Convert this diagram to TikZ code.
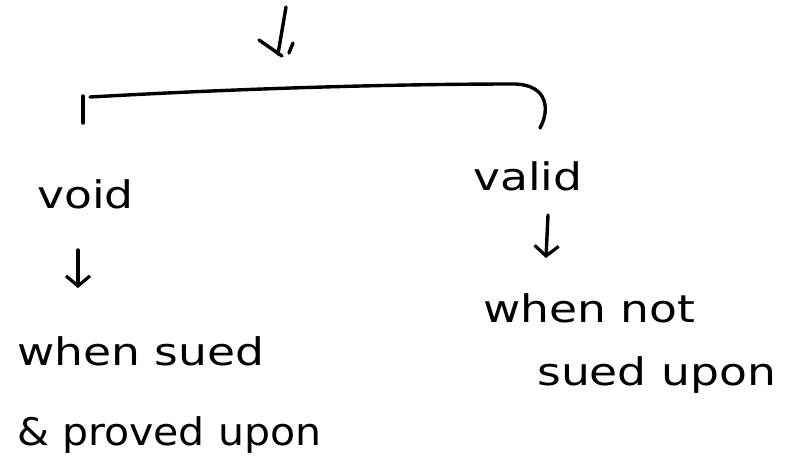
\documentclass[tikz,border=0pt]{standalone}
\usepackage{fontspec}
\setmainfont{DejaVu Sans}
\usetikzlibrary{arrows.meta}
\tikzset{
  ink/.style={line width=3.4pt, line cap=round, line join=round, black},
  hw/.style={inner sep=0pt, anchor=base west, font=\fontsize{38}{42}\selectfont, xscale=1.2, transform shape},
  darrow/.style={ink, -{Straight Barb[length=10pt,width=24pt,line width=3.2pt]}},
}
\begin{document}
\begin{tikzpicture}[x=1pt,y=-1pt]
\useasboundingbox (0,0) rectangle (789,455);
% top arrow
\coordinate (t1) at (286,7);
\coordinate (t2) at (278,54);
\coordinate (tb) at (259,40);
\coordinate (tc) at (282,56);
\draw[ink] (t1) -- (t2);
\draw[ink] (tb) -- (tc);
\coordinate (c1) at (293,43);
\coordinate (c2) at (289,53);
\draw[ink] (c1) -- (c2);
% bracket
\coordinate (bl1) at (83,96);
\coordinate (bl2) at (83,123);
\draw[ink] (bl1) -- (bl2);
\coordinate (bs) at (90,97);
\coordinate (bm) at (515,84);
\coordinate (be) at (540,128);
\draw[ink] (bs) .. controls (250,88) and (400,84) .. (bm) .. controls (548,85) and (550,110) .. (be);
% texts
\node[hw] (void) at (37,208) {void};
\node[hw] (valid) at (473,190) {valid};
\node[hw] (ws) at (17,365) {when sued};
\node[hw, xscale=0.9] (pu) at (17,445) {\& proved upon};
\node[hw] (wn) at (483,322) {when not};
\node[hw] (su) at (537,385) {sued upon};
% small arrows
\coordinate (a1) at (78,250);
\coordinate (a2) at (78,288);
\draw[darrow] (a1) -- (a2);
\coordinate (b1) at (548,215);
\coordinate (b2) at (546,258);
\draw[darrow] (b1) -- (b2);
\end{tikzpicture}
\end{document}
